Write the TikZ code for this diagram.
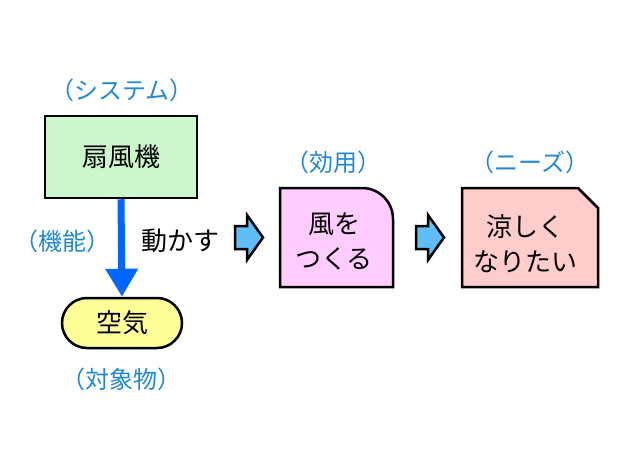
\documentclass[tikz,border=0pt]{standalone}
\usepackage{fontspec}
\setmainfont{Noto Sans CJK JP}
\usepackage{xcolor}
\usepackage{tikz}
\usetikzlibrary{
  positioning,
  calc,
  arrows.meta
}

\definecolor{tagblue}{RGB}{30,136,215}
\definecolor{flowblue}{RGB}{0,102,255}
\definecolor{stepblue}{RGB}{95,190,245}
\definecolor{fanfill}{RGB}{204,247,204}
\definecolor{airfill}{RGB}{255,255,153}
\definecolor{usefill}{RGB}{255,204,255}
\definecolor{needfill}{RGB}{255,204,204}

\tikzset{
  box/.style={draw, line width=2.5pt, line join=miter},
  bigtext/.style={font=\fontsize{26}{35}\selectfont, align=center},
  tag/.style={text=tagblue, font=\fontsize{24}{28}\selectfont},
  blockarrow/.style={draw, line width=2.5pt, fill=stepblue, line join=miter}
}

\begin{document}
\begin{tikzpicture}[x=1pt,y=-1pt]
  \useasboundingbox (0,0) rectangle (620,465);

  % system -> object
  \node[box, fill=fanfill, minimum width=152, minimum height=82, bigtext] (fan) at (121,157) {扇風機};
  \node[box, fill=airfill, rounded corners=25, minimum width=120, minimum height=50, bigtext] (air) at (122,323) {空気};
  \draw[flowblue, line width=7, -{Triangle[length=28pt, width=31pt]}] (fan.south) -- (air.north);

  \node[tag] (systag) at (122,90) {（システム）};
  \node[tag] (functag) at (62,241) {（機能）};
  \node[bigtext] (verb) at (180,241) {動かす};
  \node[tag] (objtag) at (121,379) {（対象物）};

  % step arrows
  \draw[blockarrow] (235,226) -- ++(12,0) -- ++(0,-11) -- ++(16,22.5) -- ++(-16,22.5) -- ++(0,-11) -- ++(-12,0) -- cycle;
  \draw[blockarrow] (416,226) -- ++(12,0) -- ++(0,-11) -- ++(16,22.5) -- ++(-16,22.5) -- ++(0,-11) -- ++(-12,0) -- cycle;

  % effect
  \draw[box, fill=usefill] (280,287) -- (280,188) -- (362,188) arc[start angle=-90, end angle=0, radius=31] -- (393,287) -- cycle;
  \node[bigtext] (use) at (334,241) {風を\\つくる};
  \node[tag] (usetag) at (333,162) {（効用）};

  % needs
  \draw[box, fill=needfill] (462,287) -- (462,188) -- (578,188) -- (598,208) -- (598,287) -- cycle;
  \node[bigtext] (need) at (525,244) {涼しく\\なりたい};
  \node[tag] (needtag) at (530,162) {（ニーズ）};
\end{tikzpicture}
\end{document}
